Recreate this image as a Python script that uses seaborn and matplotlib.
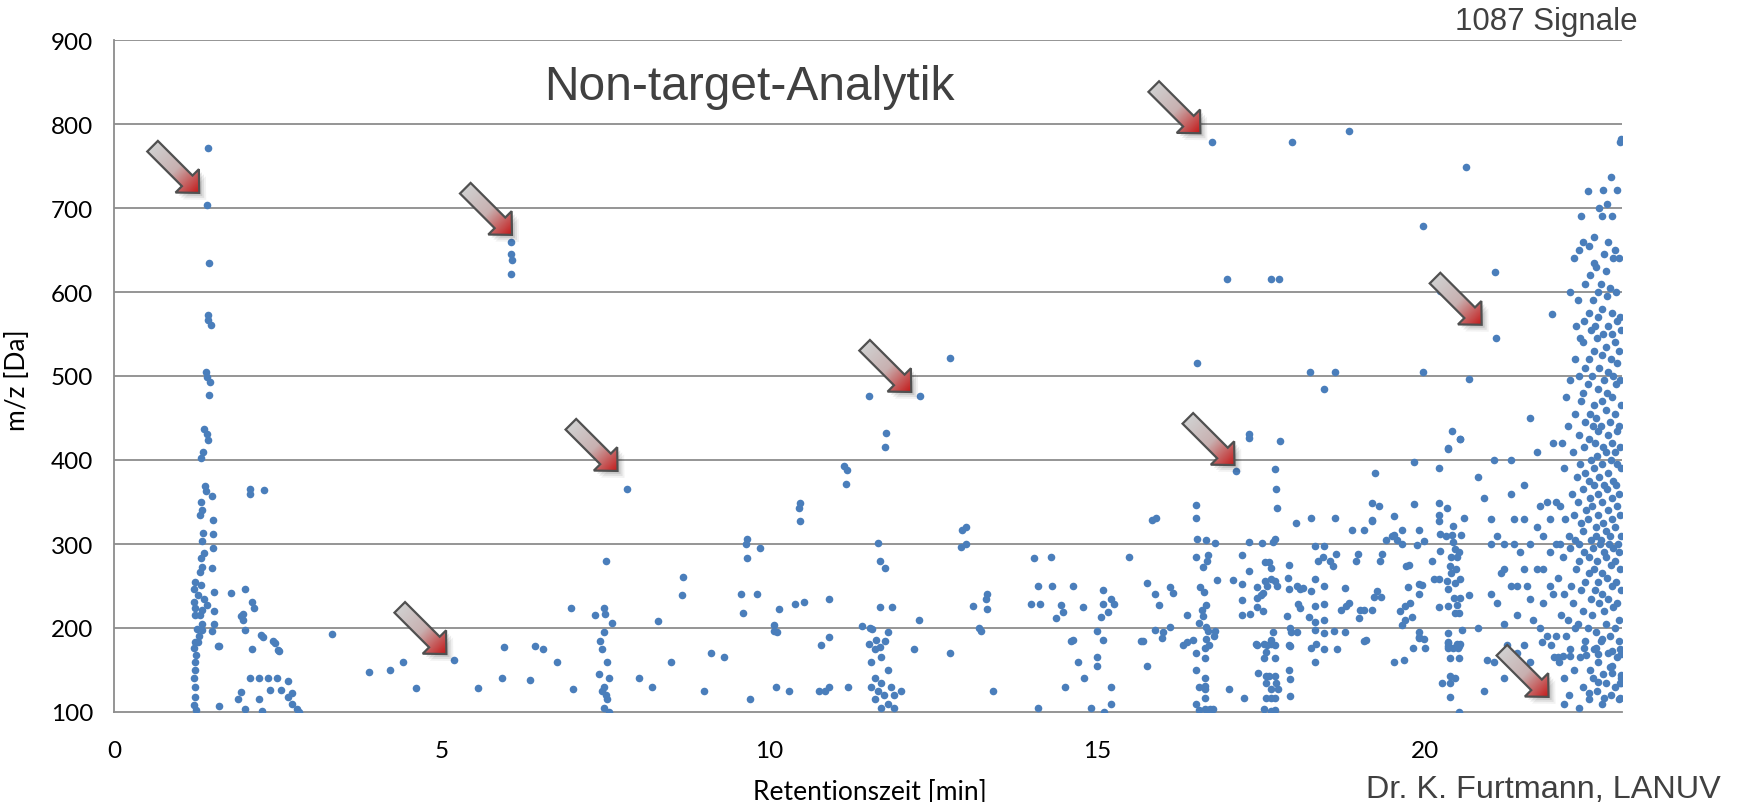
import numpy as np
import pandas as pd
import matplotlib
matplotlib.use("Agg")
import matplotlib.pyplot as plt
import seaborn as sns
from matplotlib.patches import Polygon
from matplotlib.colors import LinearSegmentedColormap

# ---------------- data ----------------
rt_a = [1.44,1.42,1.45,1.44,1.43,1.48,1.40,1.42,1.46,1.45,1.37,1.42,1.43,1.35,1.32,1.39,1.41,1.49,1.32,1.34,
        1.31,1.51,1.36,1.51,1.34,1.51,1.37,1.32,1.34,1.49,1.31,1.23,1.32,1.22,1.52,1.28,1.22,1.38,1.42,1.24,
        1.34,1.53,1.24,1.31,1.34,1.52,1.26,1.34,1.49,1.30,1.24,1.28,1.22,1.25,1.23,1.24,1.22,1.23,1.24,1.22,
        1.25,1.59,1.60,2.07,2.07,2.29,1.78,2.00,2.10,2.14,1.97,1.96,2.24,2.42,3.33,2.50,1.60,1.94,2.00,2.11,
        2.08,1.94,1.89,2.00,2.21,2.35,2.49,2.21,2.28,2.45,2.52,2.38,2.55,2.65,2.72,2.79,2.82,2.65,2.72,2.25]
mz_a = [771,703,635,573,567,561,505,499,493,477,437,431,424,409,402,369,363,357,350,341,
        335,329,313,312,304,295,289,283,273,272,267,255,251,246,243,239,231,234,227,224,
        222,220,215,215,205,205,199,198,197,190,183,183,176,168,160,150,140,130,118,108,
        102,178,107,365,360,364,242,247,231,224,217,209,192,185,193,174,178,214,198,175,
        140,124,116,103,140,140,140,116,189,182,173,126,126,118,109,103,100,137,123,101]

rt_b = [3.89,4.21,4.41,4.60,5.19,5.55,5.92,5.95,6.42,6.06,6.06,6.07,6.06,6.35,6.55,6.75,7.00,
        7.82,7.50,8.68,8.66,6.97,7.48,7.34,7.49,7.60,8.29,7.48,7.45,7.52,7.40,7.55,7.48,7.45,
        7.52,7.47,7.55,7.50,7.42,8.00,8.20,8.50,9.00,9.10,9.30,9.70,10.10,10.30,10.75,10.85,10.90,11.20]
mz_b = [148,150,160,129,162,129,140,177,178,660,645,638,621,138,175,160,127,
        365,280,261,239,224,224,215,217,206,208,195,175,160,145,140,130,125,
        115,105,100,120,185,140,130,160,125,170,165,115,130,125,125,125,130,130]

rt_c = [12.75,11.51,12.29,11.77,11.76,11.14,11.18,11.16,10.46,10.45,10.46,9.65,9.64,9.65,11.65,11.69,11.76,
        12.93,12.92,9.57,9.60,10.14,10.38,10.53,10.90,11.68,11.87,12.28,13.10,13.31,13.32,13.23,10.07,10.06,
        10.11,11.41,11.53,11.56,11.80,10.90,10.78,11.52,11.62,11.76,11.69,11.60,11.70,11.55,11.80,11.60,
        11.70,11.85,11.65,11.75,11.90,11.60,11.80,11.70,11.90,11.55,12.00,12.20,12.75,13.40,13.20,9.85,9.80]
mz_c = [521,476,476,432,415,393,388,371,349,343,327,306,300,283,301,280,272,
        317,296,240,218,223,228,231,234,225,225,210,226,240,223,197,204,196,
        195,202,200,199,195,189,180,181,186,185,177,175,165,160,150,140,
        135,130,125,120,120,115,110,105,105,130,125,175,170,125,200,295,240]

rt_d = [16.52,17.31,17.31,17.79,17.12,17.70,17.73,17.74,18.03,16.51,16.50,15.83,15.89,16.52,16.65,16.79,17.31,
        17.51,17.67,17.70,14.03,14.29,15.48,16.50,16.69,16.67,16.61,17.21,17.56,17.62,17.65,17.92,17.31,17.07,
        17.20,16.83,17.55,17.65,17.70,17.90,18.04,14.09,14.31,14.62,15.08,15.20,15.25,15.08,15.16,15.06,13.99,
        14.12,14.45,14.47,14.37,14.78,15.76,15.88,15.94,16.11,16.15,16.36,16.56,16.63,16.66,16.60,16.61,16.55,
        16.65,16.68,16.79,16.78,16.66,16.70,17.20,17.20,17.32,17.44,17.58,17.74,17.92,17.43,17.49,17.52,17.44,
        17.52,17.89,17.94,17.95,18.05,18.06,17.67,15.88,16.11,14.99,14.62,15.08,15.67,15.98,16.36,16.46,17.44,
        17.58,17.65,17.71,17.93,14.10,14.50,14.60,14.70,14.80,14.90,15.00,15.10,15.20,15.20,15.00,15.70,15.75,
        16.00,16.30,13.00,13.00,13.30,16.50,16.50,16.55,16.50,16.55]
mz_d = [516,431,426,423,387,389,366,343,325,347,331,329,331,306,305,301,302,
        301,302,306,283,285,285,285,287,280,273,287,279,279,272,275,268,257,
        252,257,256,258,256,259,250,250,250,250,245,235,229,229,219,213,228,
        228,227,219,212,225,254,240,227,249,242,215,249,243,227,221,214,206,
        201,196,196,190,187,180,233,215,217,249,250,250,247,236,239,242,225,
        220,214,200,195,195,228,195,198,201,197,186,186,184,188,183,186,180,
        180,186,180,179,105,130,185,160,140,105,165,100,110,130,155,185,155,
        195,180,320,300,235,170,150,130,110,102]

rt_e = [16.64,16.64,16.64,16.64,16.64,16.64,16.64,16.68,16.72,16.76,
        17.42,17.54,17.65,17.57,17.54,17.71,17.45,17.57,17.62,17.71,17.57,17.72,17.65,17.75,17.57,17.65,17.71,17.54,
        17.65,17.71,17.92,17.92,17.93,17.93,18.26,18.33,18.46,18.65,18.32,19.10,17.00,17.24,19.53,19.68,19.81,20.00,
        19.90,20.35,20.49,20.53,20.35,20.43,20.50,20.37,20.52,20.26,20.37,20.37,20.46,20.37,20.52,20.94,
        21.78,21.92,21.97,22.02,22.10,22.20,22.12,22.49,22.72,22.97,22.42,22.45,22.60,22.63,22.69,22.85,22.98,
        22.95,22.82,22.85,22.98,22.63,22.97,22.98]
mz_e = [176,164,141,131,127,117,104,102,104,104,
        181,181,181,172,164,164,146,143,143,143,135,135,127,127,117,117,117,104,
        101,102,180,150,139,119,176,181,175,175,159,186,127,117,159,162,176,176,
        189,183,181,181,176,176,176,164,164,134,134,143,141,118,100,162,
        183,180,166,165,167,167,110,123,117,117,176,168,176,169,187,173,169,
        185,153,146,144,136,135,135]

rt_f = [16.75,17.97,16.97,17.64,17.77,18.84,20.62,19.97,18.24,18.63,18.45,19.97,20.23,20.67,20.41,20.53,20.35,
        20.53,20.35,19.83,20.21,19.23,19.19,19.30,19.83,20.21,20.33,18.25,18.62,19.18,19.19,19.52,20.21,20.21,
        20.59,18.88,19.06,19.65,19.90,20.43,20.22,20.32,20.40,20.55,19.40,19.49,19.52,19.57,19.65,19.87,19.98,
        18.32,18.45,18.36,18.44,18.55,18.59,18.64,18.98,18.95,19.34,19.31,19.71,19.75,20.10,20.23,20.39,20.48,
        20.52,20.45,20.43,20.37,20.47,20.39,20.33,20.45,20.53,20.14,20.21,20.35,20.44,20.53,20.35,20.48,20.52,
        20.45,20.21,18.32,18.45,18.25,18.09,18.14,18.77,19.26,19.21,19.33,19.73,19.90,19.95,19.91,18.32,18.45,
        18.22,18.32,18.45,18.09,18.71,18.79,18.83,19.00,19.07,19.19,18.99,19.62,19.69,19.76,19.69,19.80,19.64,
        18.32,18.45,18.60,18.77,19.07,19.91,19.91,19.98,20.35,20.35,20.34,20.52,20.56,20.66,21.07,21.08,21.93]
mz_f = [778,778,615,615,615,792,749,678,505,505,484,505,601,496,434,425,414,
        425,413,398,390,384,349,345,348,349,343,331,331,329,327,333,335,327,
        331,317,317,317,317,322,312,310,311,311,305,310,311,305,300,299,303,
        298,298,280,284,280,274,288,288,280,288,280,274,275,280,292,285,284,
        290,294,302,274,270,266,256,254,258,258,258,246,236,236,226,227,218,
        218,225,258,250,244,246,248,248,244,237,237,249,252,251,241,226,228,
        213,207,210,224,222,226,230,222,222,222,212,220,226,230,209,213,203,
        198,194,197,195,184,195,188,187,194,182,179,179,198,239,624,545,574]

rt_g = [20.80,20.90,21.00,21.00,21.05,21.10,21.20,21.20,21.30,21.30,21.35,21.40,21.40,21.50,21.50,21.50,
        21.60,21.60,21.70,21.70,21.75,21.80,21.80,21.85,21.90,21.90,21.95,22.00,22.00,21.60,21.20,20.90,
        20.80,21.00,21.30,21.70,21.05,21.15,21.25,21.45,21.55,21.65,21.75,21.85,21.95,21.35,21.10,21.50,
        21.60,21.80,21.90,22.00,21.40,21.20]
mz_g = [380,355,300,240,160,230,300,205,360,400,300,215,170,330,270,180,
        300,235,410,270,200,310,230,350,290,250,420,300,190,160,140,125,
        200,330,250,320,400,265,180,290,250,210,345,190,240,330,310,370,
        450,270,330,350,250,270]

# dense cluster at the end of the run (columns)
rt_h = [22.04,22.07,22.03,22.06,22.05,22.08,
        22.11,22.14,22.12,22.10,22.13,22.12,22.15,
        22.19,22.21,22.18,22.22,22.20,22.19,22.23,22.18,22.21,22.20,
        22.27,22.29,22.26,22.30,22.28,22.27,22.31,22.26,22.29,22.28,22.30,22.27,
        22.34,22.36,22.33,22.37,22.35,22.34,22.38,22.33,22.36,22.35,22.37,22.34,22.36,22.33,22.35,22.37,
        22.41,22.43,22.40,22.44,22.42,22.41,22.45,22.40,22.43,22.42,22.44,22.41,22.43,22.40,22.42,22.44,22.41,
        22.49,22.51,22.48,22.52,22.50,22.49,22.53,22.48,22.51,22.50,22.52,22.49,22.51,22.48,22.50,22.52,22.49,22.51,22.50,22.48,
        22.56,22.58,22.55,22.59,22.57,22.56,22.60,22.55,22.58,22.57,22.59,22.56,22.58,22.55,22.57,22.59,22.56,22.58,22.57,
        22.62,22.64,22.61,22.65,22.63,22.62,22.66,22.61,22.64,22.63,22.65,22.62,22.64,22.61,22.63,22.65,22.62,22.64,22.63,22.61,22.65,
        22.69,22.71,22.68,22.72,22.70,22.69,22.73,22.68,22.71,22.70,22.72,22.69,22.71,22.68,22.70,22.72,22.69,22.71,22.70,22.68,22.72,22.70,22.71,
        22.76,22.78,22.75,22.79,22.77,22.76,22.80,22.75,22.78,22.77,22.79,22.76,22.78,22.75,22.77,22.79,22.76,22.78,22.77,22.75,22.79,22.77,
        22.83,22.85,22.82,22.86,22.84,22.83,22.87,22.82,22.85,22.84,22.86,22.83,22.85,22.82,22.84,22.86,22.83,22.85,22.84,22.82,22.86,22.84,22.83,
        22.90,22.92,22.89,22.93,22.91,22.90,22.94,22.89,22.92,22.91,22.93,22.90,22.92,22.89,22.91,22.93,22.90,22.92,22.91,22.89,22.93,
        22.96,22.98,22.97,22.96,22.98,22.97,22.96,22.98,22.97,22.96,22.98,22.97,22.96,22.98,22.97,22.96,22.98,22.97,22.96,22.97,22.98]
mz_h = [160,215,260,300,345,420,
        140,190,240,285,330,390,475,
        120,175,210,250,295,310,360,440,495,600,
        150,200,230,270,305,335,380,410,455,520,560,640,
        105,165,205,245,280,300,325,350,395,430,470,500,545,590,650,690,
        130,185,220,255,290,315,340,365,385,415,445,480,510,540,565,610,660,
        115,150,200,235,265,285,305,330,355,375,400,425,455,490,520,555,575,620,655,720,
        140,175,215,245,270,295,310,345,370,390,420,440,465,500,530,560,590,635,665,
        125,160,195,230,255,280,300,320,335,360,380,405,435,450,485,510,545,570,600,630,700,
        110,145,185,220,240,265,290,305,325,350,370,395,415,440,470,495,525,550,580,610,645,690,722,
        135,170,205,235,260,285,300,315,340,365,385,410,430,460,480,505,535,560,595,625,660,705,
        120,155,190,225,250,275,295,310,330,355,375,400,420,445,475,500,520,550,575,605,640,690,737,
        130,165,200,230,255,280,300,320,345,370,395,410,435,455,490,515,540,565,600,650,722,
        115,140,175,210,245,270,290,310,335,360,390,415,440,465,495,530,555,570,640,778,782]

rt = rt_a + rt_b + rt_c + rt_d + rt_e + rt_f + rt_g + rt_h
mz = mz_a + mz_b + mz_c + mz_d + mz_e + mz_f + mz_g + mz_h

# arrow tips (data coordinates)
arrow_x = [1.30, 6.07, 7.68, 5.07, 12.16, 16.57, 17.09, 20.86, 21.88]
arrow_y = [718, 668, 387, 169, 481, 789, 394, 561, 118]

y_ticks = [100, 200, 300, 400, 500, 600, 700, 800, 900]
x_ticks = [0, 5, 10, 15, 20]

# ---------------- figure ----------------
sns.set_theme(style="white")
plt.rcParams['font.family'] = ['Lato', 'DejaVu Sans']

W, H, DPI = 1741, 803, 100
fig = plt.figure(figsize=(W / DPI, H / DPI), dpi=DPI)
ax = fig.add_axes([114 / W, 1 - 713 / H, (1622 - 114) / W, (713 - 41) / H])

df = pd.DataFrame({"rt": rt, "mz": mz})
sns.scatterplot(data=df, x="rt", y="mz", color="#4A7EBB", s=30, linewidth=0, ax=ax, zorder=3)

ax.set_xlim(0, 23)
ax.set_ylim(100, 900)
ax.set_xticks(x_ticks)
ax.set_yticks(y_ticks)
ax.set_xticklabels([str(v) for v in x_ticks])
ax.set_yticklabels([str(v) for v in y_ticks])
ax.tick_params(axis='both', labelsize=17.5, colors='#868686', labelcolor='black', direction='out')
ax.tick_params(axis='y', length=5, width=1.2, pad=10)
ax.tick_params(axis='x', length=6, width=1.2, pad=14)
ax.set_xlabel("")
ax.set_ylabel("")
for g in y_ticks[1:]:
    ax.axhline(g, color="#8c8c8c", lw=1.3, zorder=1)
for s in ["top", "right"]:
    ax.spines[s].set_visible(False)
for s in ["left", "bottom"]:
    ax.spines[s].set_color("#8c8c8c")
    ax.spines[s].set_linewidth(1.3)

# ---------------- arrows ----------------
cmap = LinearSegmentedColormap.from_list("arr", ["#d0d0d0", "#c8b0b0", "#c41a1a"])
L, hl, hw, sw = 66.0, 17.0, 16.5, 7.5
d = np.array([1.0, -1.0]) / np.sqrt(2)
n = np.array([1.0, 1.0]) / np.sqrt(2)
inv = ax.transData.inverted()
for tx, ty in zip(arrow_x, arrow_y):
    tip = ax.transData.transform((tx, ty))
    local = [(-L, -sw), (-hl, -sw), (-hl, -hw), (0, 0), (-hl, hw), (-hl, sw), (-L, sw)]
    pts = np.array([tip + u * d + v * n for u, v in local])
    for k, a in [(3, 0.10), (5, 0.08), (7, 0.05)]:
        shadow = pts + np.array([k, -k])
        ax.add_patch(Polygon(inv.transform(shadow), closed=True, facecolor="#000000", alpha=a,
                             edgecolor="none", zorder=4))
    poly = Polygon(inv.transform(pts), closed=True, facecolor="none", edgecolor="#505050",
                   lw=1.6, zorder=6, joinstyle='miter')
    ax.add_patch(poly)
    x0, y0 = pts.min(axis=0)
    x1, y1 = pts.max(axis=0)
    gx, gy = np.meshgrid(np.linspace(x0, x1, 60), np.linspace(y0, y1, 60))
    tail = tip - L * d
    t = ((gx - tail[0]) * d[0] + (gy - tail[1]) * d[1]) / L
    (dx0, dy0) = inv.transform((x0, y0))
    (dx1, dy1) = inv.transform((x1, y1))
    im = ax.imshow(t, extent=[dx0, dx1, dy0, dy1], origin="lower", cmap=cmap, vmin=0, vmax=1,
                   aspect="auto", zorder=5, interpolation="bilinear")
    clip = Polygon(inv.transform(pts), closed=True, transform=ax.transData)
    im.set_clip_path(clip)

ax.set_xlim(0, 23)
ax.set_ylim(100, 900)

# ---------------- texts ----------------
fig.text(749 / W, 1 - 87 / H, "Non-target-Analytik", ha="center", va="center",
         fontsize=34.5, color="#404040", family=["Liberation Sans", "DejaVu Sans"])
fig.text(1638 / W, 1 - 22 / H, "1087 Signale", ha="right", va="center",
         fontsize=22.5, color="#404040", family=["Liberation Sans", "DejaVu Sans"])
fig.text(1721 / W, 5 / H, "Dr. K. Furtmann, LANUV", ha="right", va="baseline",
         fontsize=23.3, color="#404040", family=["Liberation Sans", "DejaVu Sans"])
fig.text(18 / W, 1 - 380 / H, "m/z [Da]", ha="center", va="center", rotation=90,
         fontsize=19, color="black")
fig.text(870 / W, 1 - 793 / H, "Retentionszeit [min]", ha="center", va="center",
         fontsize=19, color="black")

fig.savefig("out.png", dpi=DPI)
